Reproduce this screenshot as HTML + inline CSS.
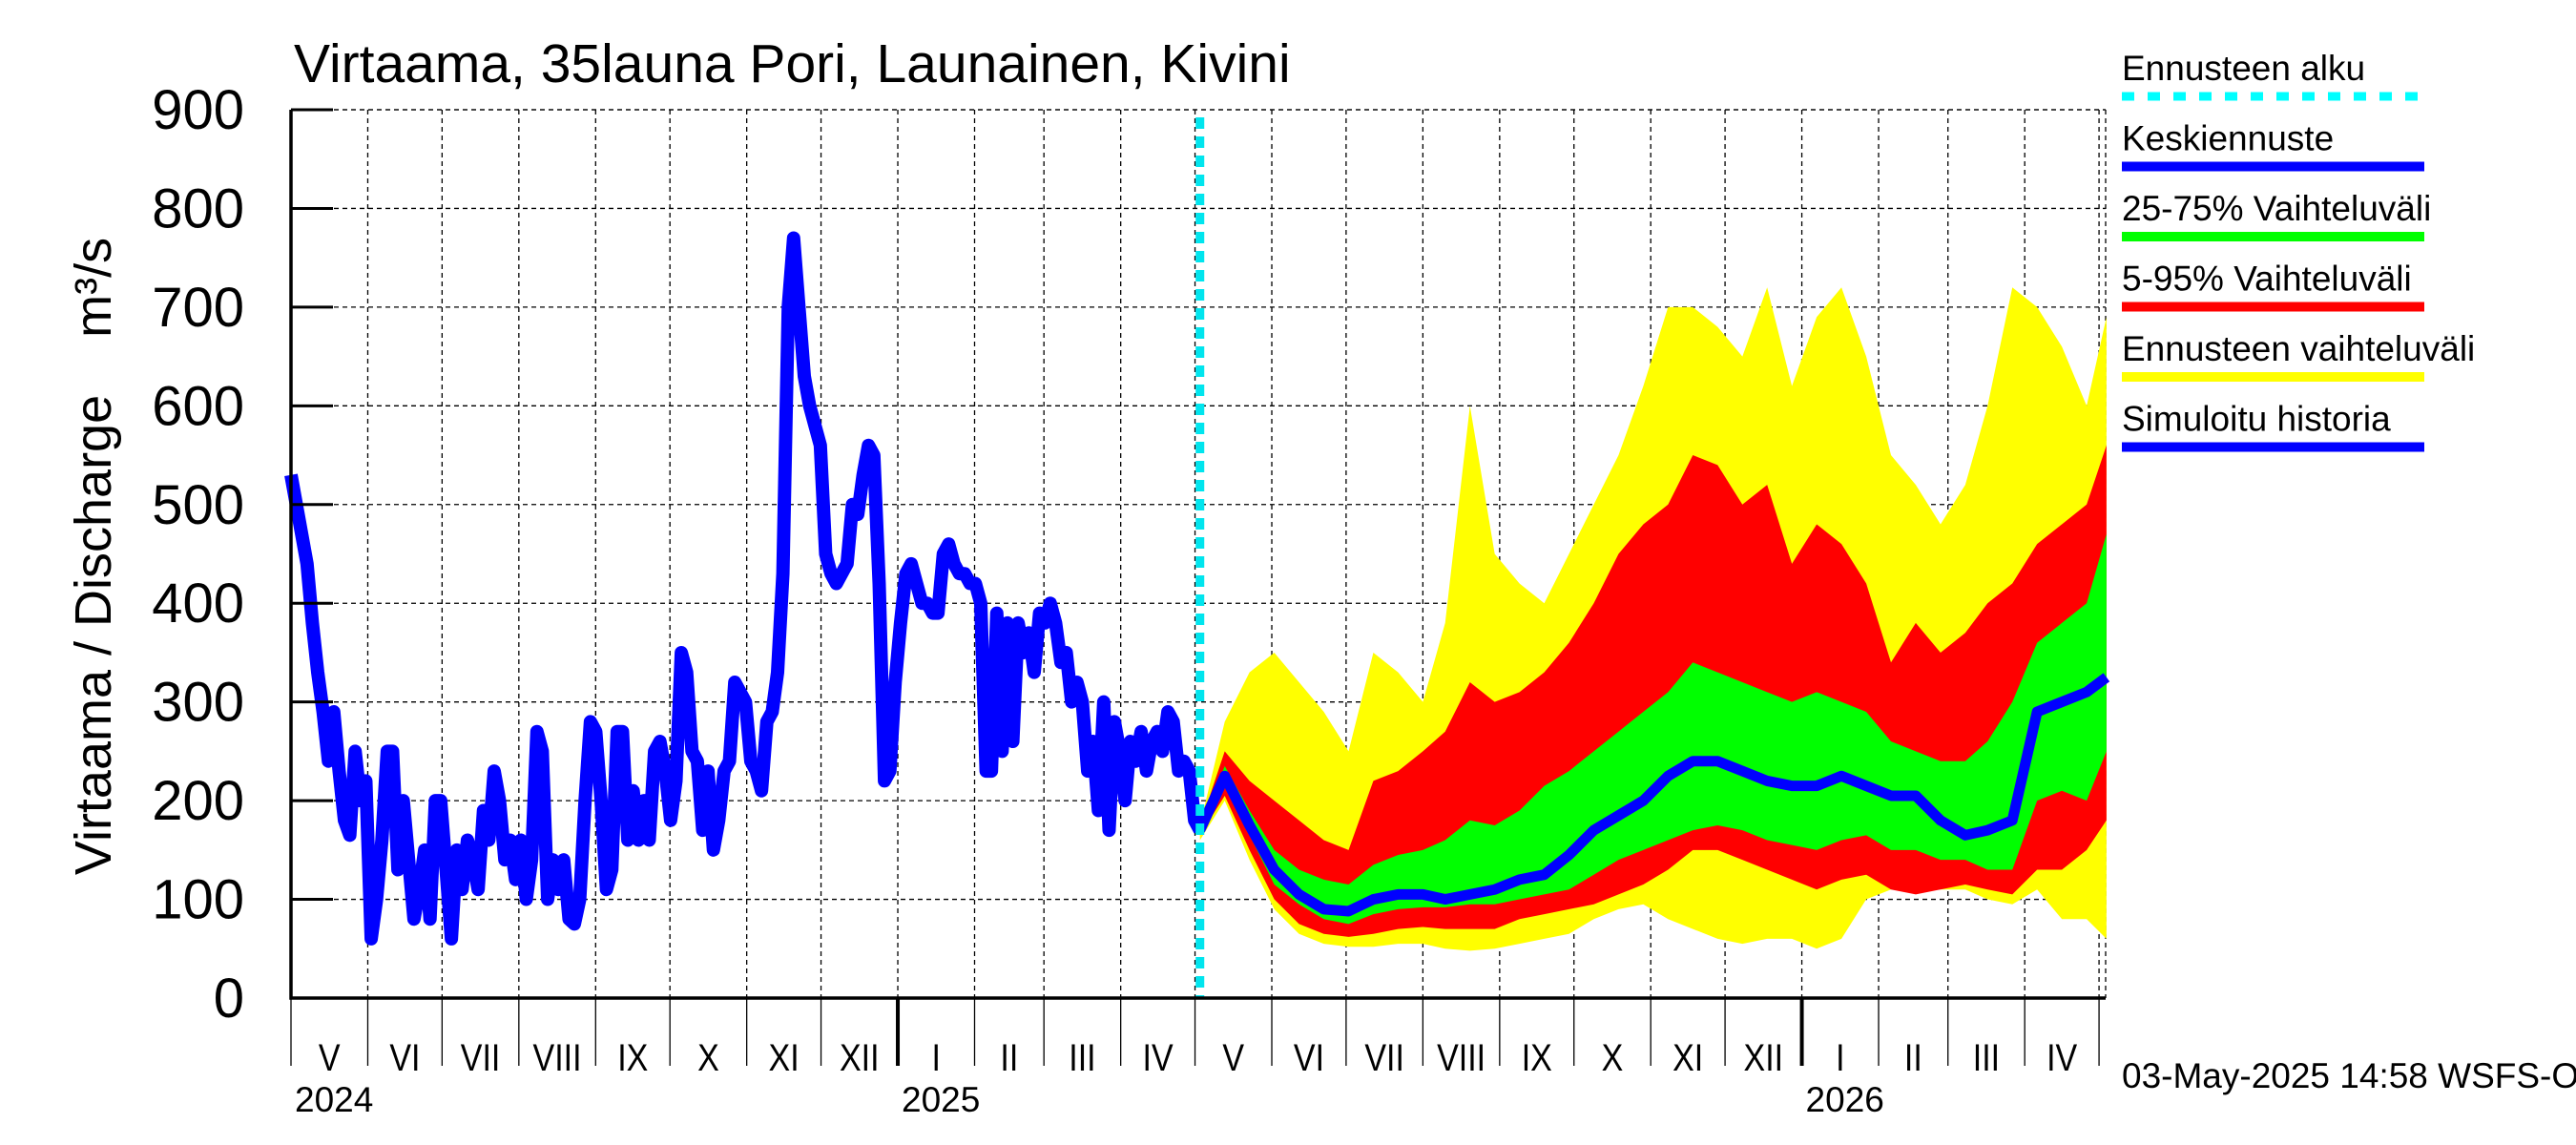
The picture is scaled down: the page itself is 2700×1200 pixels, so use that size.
<!DOCTYPE html>
<html><head><meta charset="utf-8"><style>
html,body{margin:0;padding:0;background:#fff}
svg{display:block;font-family:"Liberation Sans",sans-serif}
</style></head><body>
<svg id="chart" width="2700" height="1200" viewBox="0 0 2700 1200" xmlns="http://www.w3.org/2000/svg">
<rect width="2700" height="1200" fill="#fff"/>
<text x="308" y="86" font-size="57">Virtaama, 35launa Pori, Launainen, Kivini</text>
<text transform="translate(116,583) rotate(-90)" text-anchor="middle" font-size="54" xml:space="preserve">Virtaama / Discharge    m³/s</text>
<g id="legend"></g>
<text x="2224" y="1140" font-size="37">03-May-2025 14:58 WSFS-O</text>
</svg>
<script>
const yTicks=[0,100,200,300,400,500,600,700,800,900];
const monthLabels=["I","II","III","IV","V","VI","VII","VIII","IX","X","XI","XII"];
const histVals=[530,500,470,440,380,330,290,240,290,230,180,165,250,200,220,60,100,160,250,250,130,200,140,80,110,150,80,200,200,130,60,150,110,160,140,110,190,160,230,200,140,160,120,160,100,140,270,250,100,140,110,140,80,75,100,200,280,270,200,110,130,270,270,160,210,160,200,160,250,260,230,180,220,350,330,250,240,170,230,150,180,230,240,320,310,300,240,230,210,280,290,330,430,700,770,700,630,600,580,560,450,430,420,430,440,500,490,530,560,550,420,220,230,320,380,430,440,420,400,400,390,390,450,460,440,430,430,420,420,400,230,230,390,250,380,260,380,350,370,330,390,380,400,380,340,350,300,320,300,230,260,190,300,170,280,250,200,260,240,270,230,260,270,250,290,280,230,240,230,180,170];
const fcDays=[367,377,387,397,407,417,427,437,447,457,466,476,486,496,506,516,526,536,546,556,566,576,586,596,606,616,626,636,646,656,666,676,685,695,705,715,725,733];
const fcMax=[175,280,330,350,320,290,250,350,330,300,380,600,450,420,400,450,500,550,620,700,700,680,650,720,620,690,720,650,550,520,480,520,600,720,700,660,600,690];
const fcP95=[175,250,220,200,180,160,150,220,230,250,270,320,300,310,330,360,400,450,480,500,550,540,500,520,440,480,460,420,340,380,350,370,400,420,460,480,500,560];
const fcP75=[172,235,190,150,130,120,115,135,145,150,160,180,175,190,215,230,250,270,290,310,340,330,320,310,300,310,300,290,260,250,240,240,260,300,360,380,400,470];
const fcMean=[170,225,175,130,105,90,88,100,105,105,100,105,110,120,125,145,170,185,200,225,240,240,230,220,215,215,225,215,205,205,180,165,170,180,290,300,310,325];
const fcP25=[168,215,165,115,95,80,75,85,90,92,92,95,95,100,105,110,125,140,150,160,170,175,170,160,155,150,160,165,150,150,140,140,130,130,200,210,200,250];
const fcP5=[165,205,150,100,75,65,62,65,70,72,70,70,70,80,85,90,95,105,115,130,150,150,140,130,120,110,120,125,110,105,110,115,110,105,130,130,150,180];
const fcMin=[160,200,140,90,65,55,52,52,55,55,50,48,50,55,60,65,80,90,95,80,70,60,55,60,60,50,60,100,110,115,110,110,100,95,110,80,80,60];
const fcStartDay=367;

const NS="http://www.w3.org/2000/svg";
const svg=document.getElementById('chart');
const X0=305,X1=2207,Y0=1046,Y1=115,PPD=2.596;
const start=Date.UTC(2024,4,1);
const xs=d=>X0+d*PPD;
const ys=v=>Y0-(v/900)*(Y0-Y1);
function mk(tag,attrs,parent){const e=document.createElementNS(NS,tag);for(const k in attrs)e.setAttribute(k,attrs[k]);(parent||svg).appendChild(e);return e;}
const legendG=document.getElementById('legend');
const gridG=mk('g',{});


const seriesG=mk('g',{});


const axisG=mk('g',{});


svg.insertBefore(gridG,legendG);svg.insertBefore(seriesG,legendG);svg.insertBefore(axisG,legendG);

yTicks.forEach(v=>{
  const y=ys(v);
  if(v>0){const g=mk('line',{x1:X0,x2:X1,y1:y,y2:y,stroke:'#000','stroke-width':1.3,'stroke-dasharray':'5,4'},gridG);
  
  }
  const t=mk('line',{x1:X0,x2:X0+44,y1:y,y2:y,stroke:'#000','stroke-width':3},axisG);
  
  
  const l=mk('text',{x:256,y:y+20,'text-anchor':'end','font-size':58},axisG);
  l.textContent=v;
  
  
});
const endDay=(X1-X0)/PPD;
for(let m=0;m<26;m++){
  const d0=(Date.UTC(2024,4+m,1)-start)/864e5, d1=(Date.UTC(2024,5+m,1)-start)/864e5;
  if(d0>endDay)break;
  const x=xs(d0), mon=(4+m)%12;
  if(m>0){const g=mk('line',{x1:x,x2:x,y1:Y1,y2:Y0,stroke:'#000','stroke-width':1.3,'stroke-dasharray':'5,4'},gridG);
  
  }
  const t=mk('line',{x1:x,x2:x,y1:Y0,y2:1117,stroke:'#000','stroke-width':mon===0?4:1.3},axisG);
  
  
  const xe=Math.min(xs(d1),X1);
  if(xe-x>30){const l=mk('text',{x:(x+xe)/2,y:1122,'text-anchor':'middle','font-size':40,transform:`translate(${(x+xe)/2},0) scale(0.85,1) translate(${-(x+xe)/2},0)`},axisG);
  l.textContent=monthLabels[mon];
  
  }
  if(mon===0||m===0){const yl=mk('text',{x:x+4,y:1165,'font-size':37},axisG);
  yl.textContent=String(2024+Math.floor((4+m)/12));
  
  }
}
function band(upper,lower,color,name){
  let d='M'+fcDays.map((dd,i)=>xs(dd)+','+ys(upper[i])).join('L');
  d+='L'+fcDays.slice().reverse().map((dd,i)=>xs(dd)+','+ys(lower[lower.length-1-i])).join('L')+'Z';
  const p=mk('path',{d:d,fill:color},seriesG);
  
  
}
band(fcMax,fcMin,'#ffff00','forecast-range-band');
band(fcP95,fcP5,'#ff0000','band-5-95');
band(fcP75,fcP25,'#00ff00','band-25-75');
const hp=mk('polyline',{points:histVals.map((v,i)=>xs(i*fcStartDay/(histVals.length-1))+','+ys(v)).join(' '),fill:'none',stroke:'#0000ff','stroke-width':14,'stroke-linejoin':'round'},seriesG);


const mp=mk('polyline',{points:fcDays.map((d,i)=>xs(d)+','+ys(fcMean[i])).join(' '),fill:'none',stroke:'#0000ff','stroke-width':11,'stroke-linejoin':'round'},seriesG);


const fl=mk('line',{x1:xs(fcStartDay),x2:xs(fcStartDay),y1:Y1+8,y2:Y0,stroke:'#00e5ee','stroke-width':9,'stroke-dasharray':'12,8'},seriesG);


const ax=mk('path',{d:`M${X0},${Y1}L${X0},${Y0}L${X1},${Y0}`,fill:'none',stroke:'#000','stroke-width':3.5},axisG);


const tb=mk('line',{x1:X0,x2:X1,y1:Y1,y2:Y1,stroke:'#000','stroke-width':1.3,'stroke-dasharray':'5,4'},gridG);


const rb=mk('line',{x1:X1,x2:X1,y1:Y1,y2:Y0,stroke:'#000','stroke-width':1.3,'stroke-dasharray':'5,4'},gridG);


const legItems=[["Ennusteen alku","#00ffff",true],["Keskiennuste","#0000ff"],["25-75% Vaihteluväli","#00ff00"],["5-95% Vaihteluväli","#ff0000"],["Ennusteen vaihteluväli","#ffff00"],["Simuloitu historia","#0000ff"]];
legItems.forEach((it,i)=>{
  const y=84+i*73.5;
  const t=mk('text',{x:2224,y:y,'font-size':37},legendG);
  t.textContent=it[0];
  
  
  const l=mk('line',{x1:2224,x2:2541,y1:y+17,y2:y+17,stroke:it[1],'stroke-width':it[2]?9:10,'stroke-dasharray':it[2]?'13,14':'none'},legendG);
  
  
});
</script>
</body></html>
